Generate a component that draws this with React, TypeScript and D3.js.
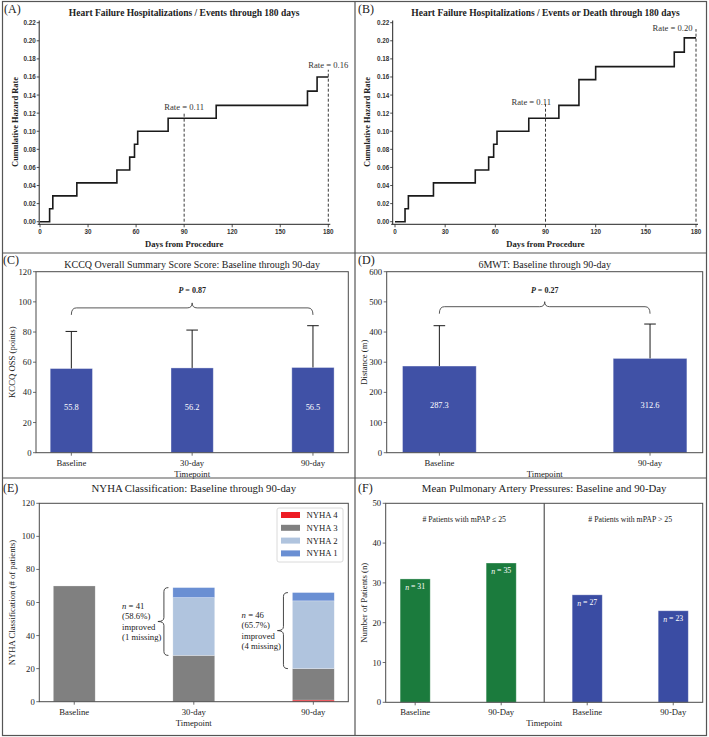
import * as d3 from "d3";

const W = 709;
const H = 737;
const SERIF = "'Liberation Serif', 'Times New Roman', Times, serif";
const SANS = "'Liberation Sans', Arial, Helvetica, sans-serif";
const INK = "#222";
const FRAME = "#4a4a4a";

// (A) Heart failure hospitalizations / events
const hfDays = [0, 6, 8, 23, 48, 56, 59, 61, 80, 110, 167, 173, 180];
const hfRates = [0, 0.0143, 0.0286, 0.0429, 0.0571, 0.0714, 0.0857, 0.1, 0.1143, 0.1286, 0.1443, 0.16, 0.16];
const hfRefDays = [90, 180];
const hfRefTops = [0.12, 0.168];
const hfRateLabels = ["Rate = 0.11", "Rate = 0.16"];
const hfRateLabelDays = [90, 180];
const hfRateLabelY = [0.127, 0.173];

// (B) Heart failure hospitalizations / events or death
const hfdDays = [0, 6, 8, 23, 48, 56, 59, 61, 80, 98, 110, 120, 167, 173, 180];
const hfdRates = [0, 0.0143, 0.0286, 0.0429, 0.0571, 0.0714, 0.0857, 0.1, 0.1143, 0.1286, 0.1571, 0.1714, 0.1875, 0.2032, 0.2032];
const hfdRefDays = [90, 180];
const hfdRefTops = [0.13, 0.213];
const hfdRateLabels = ["Rate = 0.11", "Rate = 0.20"];
const hfdRateLabelDays = [81.5, 166];
const hfdRateLabelY = [0.132, 0.214];

const hazardTicks = [0, 0.02, 0.04, 0.06, 0.08, 0.1, 0.12, 0.14, 0.16, 0.18, 0.2, 0.22];
const dayTicks = [0, 30, 60, 90, 120, 150, 180];

// (C) KCCQ
const kccqCats = ["Baseline", "30-day", "90-day"];
const kccqMeans = [55.8, 56.2, 56.5];
const kccqUpper = [80.4, 81.3, 84.2];
const kccqP = "0.87";
const kccqTicks = [0, 20, 40, 60, 80, 100, 120];

// (D) 6MWT
const walkCats = ["Baseline", "90-day"];
const walkMeans = [287.3, 312.6];
const walkUpper = [421, 426.5];
const walkP = "0.27";
const walkTicks = [0, 100, 200, 300, 400, 500, 600];

// (E) NYHA
const nyhaCats = ["Baseline", "30-day", "90-day"];
const nyhaClasses = ["NYHA 4", "NYHA 3", "NYHA 2", "NYHA 1"];
const nyha4 = [0, 0, 1];
const nyha3 = [70, 28, 19];
const nyha2 = [0, 35, 41];
const nyha1 = [0, 6, 5];
const nyhaColors = ["#ED1C24", "#808080", "#B0C4DE", "#6A8FD3"];
const improvedCats = [1, 2];
const improvedN = [41, 46];
const improvedPct = ["58.6%", "65.7%"];
const missingN = [1, 4];
const nyhaTicks = [0, 20, 40, 60, 80, 100, 120];

// (F) mPAP
const mpapCats = ["Baseline", "90-Day", "Baseline", "90-Day"];
const mpapCounts = [31, 35, 27, 23];
const mpapGroupOf = [0, 0, 1, 1];
const mpapGroups = ["# Patients with mPAP \u2264 25", "# Patients with mPAP > 25"];
const mpapColors = ["#1B7B3D", "#3A4CA3"];
const mpapTicks = [0, 10, 20, 30, 40, 50];

const BAR_BLUE = "#4051A6";

function Letter({ x, y, t }: { x: number; y: number; t: string }) {
  return (
    <text x={x} y={y} fontSize={12} dominantBaseline="central" fill={INK}>
      {t}
    </text>
  );
}

function HazardPanel(props: {
  xr: [number, number];
  axisX: number;
  days: number[];
  rates: number[];
  refDays: number[];
  refTops: number[];
  labels: string[];
  labelDays: number[];
  labelY: number[];
  title: string;
  yLabelX: number;
}) {
  const { xr, axisX, days, rates, refDays, refTops, labels, labelDays, labelY, title, yLabelX } = props;
  const x = d3.scaleLinear().domain([0, 180]).range(xr);
  const y = d3.scaleLinear().domain([0, 0.22]).range([221.7, 22.7]);
  const axisY = 224.3;
  const path =
    d3
      .line<number>()
      .x((_, i) => x(days[i]))
      .y((d) => y(d))
      .curve(d3.curveStepAfter)(rates) || "";
  const cx = (xr[0] + xr[1]) / 2;
  return (
    <g>
      <text x={cx} y={13} textAnchor="middle" dominantBaseline="central" fontWeight="bold" fontSize={9.5} fill={INK}>
        {title}
      </text>
      {/* axes */}
      <line x1={axisX} x2={axisX} y1={20.5} y2={axisY} stroke={INK} strokeWidth={1} />
      <line x1={axisX - 1.5} x2={xr[1] + 2} y1={axisY} y2={axisY} stroke={INK} strokeWidth={1} />
      {hazardTicks.map((v) => (
        <g key={v} transform={`translate(0,${y(v)})`}>
          <line x1={axisX - 2.5} x2={axisX} stroke={INK} strokeWidth={0.8} />
          <text x={axisX - 3.5} textAnchor="end" dominantBaseline="central" fontFamily={SANS} fontWeight="bold" fontSize={6.3} fill="#333">
            {d3.format(".2f")(v)}
          </text>
        </g>
      ))}
      {dayTicks.map((v) => (
        <g key={v} transform={`translate(${x(v)},0)`}>
          <line y1={axisY} y2={axisY + 3} stroke={INK} strokeWidth={0.8} />
          <text y={axisY + 7} textAnchor="middle" dominantBaseline="central" fontFamily={SANS} fontWeight="bold" fontSize={6.3} fill="#333">
            {v}
          </text>
        </g>
      ))}
      <text x={cx} y={244} textAnchor="middle" dominantBaseline="central" fontWeight="bold" fontSize={8.6} fill={INK}>
        Days from Procedure
      </text>
      <text
        transform={`translate(${yLabelX},${122}) rotate(-90)`}
        textAnchor="middle"
        dominantBaseline="central"
        fontWeight="bold"
        fontSize={8.4}
        fill={INK}
      >
        Cumulative Hazard Rate
      </text>
      {/* reference lines */}
      {refDays.map((d, i) => (
        <line key={d} x1={x(d)} x2={x(d)} y1={y(0)} y2={y(refTops[i])} stroke={INK} strokeWidth={0.9} strokeDasharray="3,2" />
      ))}
      {labels.map((t, i) => (
        <text key={i} x={x(labelDays[i])} y={y(labelY[i])} textAnchor="middle" dominantBaseline="central" fontSize={8.6} fill="#333">
          {t}
        </text>
      ))}
      <path d={path} fill="none" stroke="#1a1a1a" strokeWidth={1.6} />
    </g>
  );
}

function BarAxes(props: {
  l: number;
  r: number;
  t: number;
  b: number;
  y: d3.ScaleLinear<number, number>;
  ticks: number[];
  x: d3.ScaleLinear<number, number>;
  cats: string[];
  yLabel: string;
  yLabelX: number;
  title: string;
  titleY: number;
  titleSize: number;
}) {
  const { l, r, t, b, y, ticks, x, cats, yLabel, yLabelX, title, titleY, titleSize } = props;
  return (
    <g>
      <text x={(l + r) / 2} y={titleY} textAnchor="middle" dominantBaseline="central" fontSize={titleSize} fill={INK}>
        {title}
      </text>
      {ticks.map((v) => (
        <g key={v} transform={`translate(0,${y(v)})`}>
          <line x1={l - 3} x2={l} stroke={FRAME} strokeWidth={0.8} />
          <text x={l - 4.5} textAnchor="end" dominantBaseline="central" fontSize={8.7} fill={INK}>
            {v}
          </text>
        </g>
      ))}
      {cats.map((c, i) => (
        <g key={i} transform={`translate(${x(i)},0)`}>
          <line y1={b} y2={b + 3} stroke={FRAME} strokeWidth={0.8} />
          <text y={b + 10} textAnchor="middle" dominantBaseline="central" fontSize={8.7} fill={INK}>
            {c}
          </text>
        </g>
      ))}
      <text x={(l + r) / 2} y={b + 21} textAnchor="middle" dominantBaseline="central" fontSize={8.7} fill={INK}>
        Timepoint
      </text>
      <text
        transform={`translate(${yLabelX},${(t + b) / 2}) rotate(-90)`}
        textAnchor="middle"
        dominantBaseline="central"
        fontSize={8.7}
        fill={INK}
      >
        {yLabel}
      </text>
      <rect x={l} y={t} width={r - l} height={b - t} fill="none" stroke={FRAME} strokeWidth={1} />
    </g>
  );
}

// horizontal curly brace, tip pointing up
function hBrace(xa: number, xb: number, yl: number, endD: number, tipD: number) {
  const xm = (xa + xb) / 2;
  const r = 5;
  return `M${xa},${yl + endD} Q${xa},${yl} ${xa + r},${yl} L${xm - r},${yl} Q${xm},${yl} ${xm},${yl - tipD} Q${xm},${yl} ${xm + r},${yl} L${xb - r},${yl} Q${xb},${yl} ${xb},${yl + endD}`;
}

// vertical curly brace, tip pointing left
function vBrace(xl: number, ya: number, yb: number, endD: number, tipD: number) {
  const ym = (ya + yb) / 2;
  const r = 4;
  return `M${xl + endD},${ya} Q${xl},${ya} ${xl},${ya + r} L${xl},${ym - r} Q${xl},${ym} ${xl - tipD},${ym} Q${xl},${ym} ${xl},${ym + r} L${xl},${yb - r} Q${xl},${yb} ${xl + endD},${yb}`;
}

function MeanBarPanel(props: {
  l: number;
  r: number;
  xDomain: [number, number];
  yMax: number;
  ticks: number[];
  cats: string[];
  means: number[];
  upper: number[];
  pValue: string;
  braceAt: number;
  pAt: number;
  labelAt: number;
  title: string;
  yLabel: string;
  yLabelX: number;
}) {
  const { l, r, xDomain, yMax, ticks, cats, means, upper, pValue, braceAt, pAt, labelAt, title, yLabel, yLabelX } = props;
  const t = 271.7;
  const b = 452.7;
  const x = d3.scaleLinear().domain(xDomain).range([l, r]);
  const y = d3.scaleLinear().domain([0, yMax]).range([b, t]);
  const bw = x(0.35) - x(0);
  const first = x(0);
  const last = x(cats.length - 1);
  return (
    <g>
      {means.map((m, i) => (
        <g key={i}>
          <rect x={x(i) - bw / 2} y={y(m)} width={bw} height={y(0) - y(m)} fill={BAR_BLUE} stroke="#fff" strokeOpacity={0.45} strokeWidth={0.8} />
          <line x1={x(i)} x2={x(i)} y1={y(m)} y2={y(upper[i])} stroke="#1a1a1a" strokeWidth={1} />
          <line x1={x(i) - 5.8} x2={x(i) + 5.8} y1={y(upper[i])} y2={y(upper[i])} stroke="#1a1a1a" strokeWidth={1} />
          <text x={x(i)} y={y(labelAt)} textAnchor="middle" dominantBaseline="central" fontSize={8.4} fill="#fff">
            {m.toFixed(1)}
          </text>
        </g>
      ))}
      <path d={hBrace(first, last, y(braceAt), 7, 5)} fill="none" stroke="#444" strokeWidth={0.9} />
      <text x={(first + last) / 2} y={y(pAt)} textAnchor="middle" dominantBaseline="central" fontSize={8} fontWeight="bold" fill={INK}>
        <tspan fontStyle="italic">P</tspan> = {pValue}
      </text>
      <BarAxes
        l={l}
        r={r}
        t={t}
        b={b}
        y={y}
        ticks={ticks}
        x={x}
        cats={cats}
        yLabel={yLabel}
        yLabelX={yLabelX}
        title={title}
        titleY={264}
        titleSize={10}
      />
    </g>
  );
}

function NyhaPanel() {
  const l = 39.3;
  const r = 348.3;
  const t = 503.3;
  const b = 701.7;
  const x = d3.scaleLinear().domain([-0.2925, 2.2925]).range([l, r]);
  const y = d3.scaleLinear().domain([0, 120]).range([b, t]);
  const bw = x(0.35) - x(0);
  const rows = nyhaCats.map((c, i) => ({ c, n4: nyha4[i], n3: nyha3[i], n2: nyha2[i], n1: nyha1[i] }));
  const keys = ["n4", "n3", "n2", "n1"];
  const stack = d3.stack<any>().keys(keys)(rows);
  const legendTop = 508;
  return (
    <g>
      {stack.map((layer, k) =>
        layer.map((seg, i) =>
          seg[1] - seg[0] > 0 ? (
            <rect
              key={`${k}-${i}`}
              x={x(i) - bw / 2}
              y={y(seg[1])}
              width={bw}
              height={y(seg[0]) - y(seg[1])}
              fill={nyhaColors[k]}
              stroke="#fff"
              strokeOpacity={0.4}
              strokeWidth={0.6}
            />
          ) : null
        )
      )}
      {improvedCats.map((ci, j) => {
        const lo = y(nyha4[ci] + nyha3[ci]);
        const hi = y(nyha4[ci] + nyha3[ci] + nyha2[ci] + nyha1[ci]);
        const bx = x(ci - 0.25);
        const tx = x(ci - 0.6);
        const mid = (lo + hi) / 2;
        const lh = 10.3;
        const lines = [null, `(${improvedPct[j]})`, "improved", `(${missingN[j]} missing)`];
        return (
          <g key={ci}>
            <path d={vBrace(bx, hi, lo, 4.5, 6)} fill="none" stroke="#333" strokeWidth={0.9} />
            {lines.map((ln, k) => (
              <text key={k} x={tx} y={mid + (k - 1.5) * lh} dominantBaseline="central" fontSize={8.7} fill={INK}>
                {k === 0 ? (
                  <>
                    <tspan fontStyle="italic">n</tspan> = {improvedN[j]}
                  </>
                ) : (
                  ln
                )}
              </text>
            ))}
          </g>
        );
      })}
      <BarAxes
        l={l}
        r={r}
        t={t}
        b={b}
        y={y}
        ticks={nyhaTicks}
        x={x}
        cats={nyhaCats}
        yLabel="NYHA Classification (# of patients)"
        yLabelX={11.7}
        title="NYHA Classification: Baseline through 90-day"
        titleY={487.5}
        titleSize={10.8}
      />
      <rect x={277} y={legendTop} width={66} height={54} rx={2} fill="#fff" stroke="#d0d0d0" strokeWidth={0.8} />
      {nyhaClasses.map((name, k) => (
        <g key={name} transform={`translate(0,${legendTop + 7 + k * 12.8})`}>
          <rect x={281} y={-3} width={19} height={6} fill={nyhaColors[k]} />
          <text x={306.5} dominantBaseline="central" fontSize={8.7} fill={INK}>
            {name}
          </text>
        </g>
      ))}
    </g>
  );
}

function MpapPanel() {
  const l = 385.7;
  const r = 702.7;
  const t = 503.3;
  const b = 702.3;
  const x = d3.scaleLinear().domain([-0.3425, 3.3425]).range([l, r]);
  const y = d3.scaleLinear().domain([0, 50]).range([b, t]);
  const bw = x(0.35) - x(0);
  return (
    <g>
      {mpapCounts.map((v, i) => (
        <g key={i}>
          <rect
            x={x(i) - bw / 2}
            y={y(v)}
            width={bw}
            height={y(0) - y(v)}
            fill={mpapColors[mpapGroupOf[i]]}
            stroke="#fff"
            strokeOpacity={0.4}
            strokeWidth={0.8}
          />
          <text x={x(i)} y={y(v - 2)} textAnchor="middle" dominantBaseline="central" fontSize={7.8} fill="#fff">
            <tspan fontStyle="italic">n</tspan> = {v}
          </text>
        </g>
      ))}
      <line x1={x(1.5)} x2={x(1.5)} y1={t} y2={b} stroke="#333" strokeWidth={1} />
      {mpapGroups.map((g, k) => (
        <text key={k} x={x(k === 0 ? 0.57 : 2.5)} y={y(46)} textAnchor="middle" dominantBaseline="central" fontSize={7.8} fill={INK}>
          {g}
        </text>
      ))}
      <BarAxes
        l={l}
        r={r}
        t={t}
        b={b}
        y={y}
        ticks={mpapTicks}
        x={x}
        cats={mpapCats}
        yLabel="Number of Patients (n)"
        yLabelX={364.3}
        title="Mean Pulmonary Artery Pressures: Baseline and 90-Day"
        titleY={487.5}
        titleSize={10.8}
      />
    </g>
  );
}

export default function App() {
  return (
    <div style={{ position: "absolute", left: 0, top: 0 }}>
      <svg width={W} height={H} viewBox={`0 0 ${W} ${H}`} fontFamily={SERIF} style={{ display: "block", background: "#fff" }}>
        <rect x={0} y={0} width={W} height={H} fill="#fff" />
        <HazardPanel
          xr={[40, 328.3]}
          axisX={39.2}
          days={hfDays}
          rates={hfRates}
          refDays={hfRefDays}
          refTops={hfRefTops}
          labels={hfRateLabels}
          labelDays={hfRateLabelDays}
          labelY={hfRateLabelY}
          title="Heart Failure Hospitalizations / Events through 180 days"
          yLabelX={15}
        />
        <HazardPanel
          xr={[395, 696]}
          axisX={392.7}
          days={hfdDays}
          rates={hfdRates}
          refDays={hfdRefDays}
          refTops={hfdRefTops}
          labels={hfdRateLabels}
          labelDays={hfdRateLabelDays}
          labelY={hfdRateLabelY}
          title="Heart Failure Hospitalizations / Events or Death through 180 days"
          yLabelX={367}
        />
        <MeanBarPanel
          l={36}
          r={348.3}
          xDomain={[-0.2925, 2.2925]}
          yMax={120}
          ticks={kccqTicks}
          cats={kccqCats}
          means={kccqMeans}
          upper={kccqUpper}
          pValue={kccqP}
          braceAt={96}
          pAt={107.8}
          labelAt={30}
          title="KCCQ Overall Summary Score Score: Baseline through 90-day"
          yLabel="KCCQ OSS (points)"
          yLabelX={11.7}
        />
        <MeanBarPanel
          l={386.7}
          r={702.7}
          xDomain={[-0.25, 1.25]}
          yMax={600}
          ticks={walkTicks}
          cats={walkCats}
          means={walkMeans}
          upper={walkUpper}
          pValue={walkP}
          braceAt={484}
          pAt={539}
          labelAt={158}
          title="6MWT: Baseline through 90-day"
          yLabel="Distance (m)"
          yLabelX={364.3}
        />
        <NyhaPanel />
        <MpapPanel />
        {/* panel letters */}
        <Letter x={4} y={8.5} t="(A)" />
        <Letter x={358} y={8.5} t="(B)" />
        <Letter x={3} y={260} t="(C)" />
        <Letter x={358} y={259.5} t="(D)" />
        <Letter x={3} y={488} t="(E)" />
        <Letter x={358} y={488} t="(F)" />
        {/* panel borders */}
        <rect x={2.5} y={1.5} width={704} height={734} fill="none" stroke="#555" strokeWidth={1.2} />
        <line x1={355} x2={355} y1={1.5} y2={735.5} stroke="#555" strokeWidth={1.2} />
        <line x1={2.5} x2={706.5} y1={253} y2={253} stroke="#555" strokeWidth={1.2} />
        <line x1={2.5} x2={706.5} y1={478} y2={478} stroke="#555" strokeWidth={1.2} />
      </svg>
    </div>
  );
}
